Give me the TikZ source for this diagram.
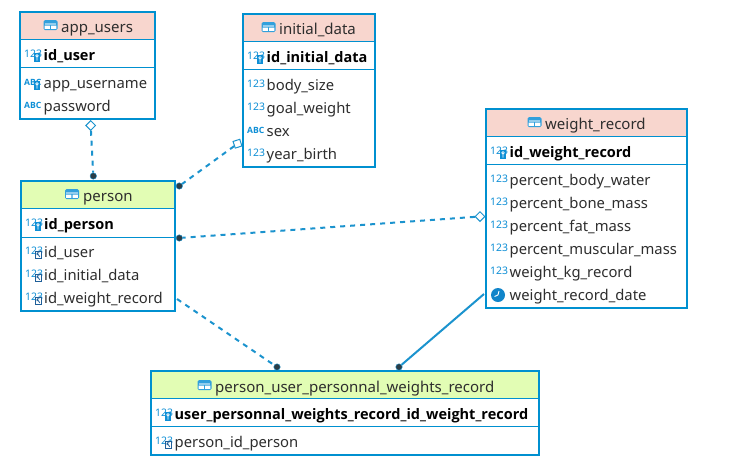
\documentclass[tikz,border=0pt]{standalone}
\usepackage{fontspec}
\setmainfont{Noto Sans}
\newfontfamily\pkfont{Open Sans}
\usetikzlibrary{shapes.geometric}
\definecolor{bord}{HTML}{0090D0}
\definecolor{lnk}{HTML}{1B93CE}
\definecolor{pinkh}{HTML}{F8D6CE}
\definecolor{greenh}{HTML}{E2FDB4}
\definecolor{txt}{HTML}{2E2E2E}
\definecolor{iconb}{HTML}{0E8FD6}
\definecolor{fkb}{HTML}{1F5F99}
\newcounter{nn}
\tikzset{
  x=1pt,y=-1pt,
  tbl/.style={draw=bord,line width=2pt,fill=white,rectangle,inner sep=0pt,anchor=north west,outer sep=0pt},
  sep/.style={draw=bord,line width=1pt},
  coltext/.style={font=\fontsize{14.8}{16}\selectfont,text=txt,anchor=base west,inner sep=0pt},
  pktext/.style={coltext,font=\pkfont\fontsize{14.5}{16}\selectfont\bfseries,text=black},
  titletext/.style={coltext,font=\fontsize{15}{16}\selectfont,anchor=base west},
  numicon/.style={font=\fontsize{10.4}{10}\selectfont,text=iconb,anchor=base west,inner sep=0pt},
  absicon/.style={font=\pkfont\fontsize{8.6}{10}\selectfont\bfseries,text=iconb,anchor=base west,inner sep=0pt},
  rel/.style={draw=lnk,line width=2pt,dash pattern=on 5pt off 5pt},
  relsolid/.style={draw=lnk,line width=2pt},
  dotend/.style={circle,fill=txt!85!lnk,draw=lnk,line width=.4pt,minimum size=6.5pt,inner sep=0pt},
  diamondend/.style={diamond,draw=lnk,fill=white,line width=1pt,minimum size=10pt,inner sep=0pt},
  squareend/.style={rectangle,rotate=18,draw=lnk,fill=white,line width=1pt,minimum size=7pt,inner sep=0pt},
}
% table: name, x1, y1, x2, y2, header bottom, pk bottom, colour
\newcommand{\tabl}[8]{%
  \node[tbl,minimum width=#4pt-#2pt,minimum height=#5pt-#3pt] (#1) at (#2,#3) {};
  \fill[#8] (#2+1,#3+1) rectangle (#4-1,#6);
  \draw[sep] (#2,#6) -- (#4,#6);
  \draw[sep] (#2,#7) -- (#4,#7);
  \draw[bord,line width=2pt] (#2,#3) rectangle (#4,#5);
}
% header: label, icon x, text x, baseline y
\newcommand{\titl}[4]{%
  \stepcounter{nn}%
  \fill[iconb!85!white,rounded corners=1.5pt] (#2,#4-11) rectangle +(14,10);
  \fill[white!55!iconb] (#2+1.2,#4-8) rectangle +(11.6,2);
  \fill[white] (#2+1.2,#4-5.4) rectangle +(5.2,3.2) (#2+7.6,#4-5.4) rectangle +(5.2,3.2);
  \node[titletext] (t\thenn) at (#3,#4+1) {#1};
}
\newcommand{\num}[2]{\stepcounter{nn}\node[numicon] (i\thenn) at (#1,#2-2.8) {123};}
\newcommand{\abc}[2]{\stepcounter{nn}\node[absicon] (i\thenn) at (#1,#2-3) {ABC};}
\newcommand{\keyb}[2]{%
  \fill[iconb] (#1+10,#2-7) rectangle +(6,9);
  \draw[white,line width=.7pt] (#1+13,#2-4.2) circle (1.3pt) (#1+13,#2-3) -- (#1+13,#2+.5);
}
\newcommand{\fkb}[2]{%
  \draw[fkb,fill=white,line width=.9pt] (#1+10.8,#2-5.5) rectangle +(5.2,6.5);
  \draw[fkb,line width=.8pt] (#1+12,#2-4) -- (#1+14.8,#2-.2) (#1+12,#2-4.2) -- (#1+12,#2-1.8) (#1+12,#2-4.2) -- (#1+14.4,#2-4.2);
}
% column: label, x icon, x text, y baseline
\newcommand{\pk}[4]{\num{#2}{#4}\keyb{#2}{#4}\node[pktext] (c\thenn) at (#3,#4) {#1};}
\newcommand{\cn}[4]{\num{#2}{#4}\node[coltext] (c\thenn) at (#3,#4) {#1};}
\newcommand{\ca}[4]{\abc{#2}{#4}\node[coltext] (c\thenn) at (#3,#4) {#1};}
\newcommand{\cf}[4]{\num{#2}{#4}\fkb{#2}{#4}\node[coltext] (c\thenn) at (#3,#4) {#1};}
\begin{document}
\begin{tikzpicture}
\useasboundingbox (0,0) rectangle (731,467);
\fill[white] (0,0) rectangle (731,467);

% app_users
\tabl{appusers}{20}{12}{155}{119}{39}{67}{pinkh}
\titl{app\_users}{43.5}{61}{31}
\pk{id\_user}{24}{43.5}{60}
\abc{24}{88}\keyb{24}{88}
\node[coltext] (c-appusername) at (43.5,88) {app\_username};
\ca{password}{24}{43.5}{111}

% initial_data
\tabl{initialdata}{243}{14}{375}{167}{41}{69}{pinkh}
\titl{initial\_data}{261.5}{279}{33}
\pk{id\_initial\_data}{247}{266.5}{62}
\cn{body\_size}{247}{266.5}{90}
\cn{goal\_weight}{247}{266.5}{113}
\ca{sex}{247}{266.5}{136}
\cn{year\_birth}{247}{266.5}{159}

% weight_record
\tabl{weightrecord}{486}{109}{687}{308}{136}{164}{pinkh}
\titl{weight\_record}{527.5}{545}{128}
\pk{id\_weight\_record}{490}{509.5}{157}
\cn{percent\_body\_water}{490}{509.5}{185}
\cn{percent\_bone\_mass}{490}{509.5}{208}
\cn{percent\_fat\_mass}{490}{509.5}{231}
\cn{percent\_muscular\_mass}{490}{509.5}{254}
\cn{weight\_kg\_record}{490}{509.5}{277}
\node[circle,fill=iconb!80!fkb,minimum size=14pt,inner sep=0pt] (clock) at (498,295) {};
\draw[white,line width=.9pt] (clock.center) -- ++(1,-4) (clock.center) -- ++(-3.5,1.5);
\node[coltext] (c-wrd) at (509.5,300) {weight\_record\_date};

% person
\tabl{person}{21}{181}{175}{311}{208}{237}{greenh}
\titl{person}{65}{83}{200}
\pk{id\_person}{25}{44}{229}
\cf{id\_user}{25}{44}{257}
\cf{id\_initial\_data}{25}{44}{280}
\cf{id\_weight\_record}{25}{44}{303}

% bridge
\tabl{bridge}{151}{371}{539}{455}{398}{426}{greenh}
\titl{person\_user\_personnal\_weights\_record}{197.5}{215}{391}
\pk{user\_personnal\_weights\_record\_id\_weight\_record}{155}{174.5}{419}
\cf{person\_id\_person}{155}{174.5}{447}

% relations
\coordinate (p4) at (177,299);
\coordinate (w5) at (484,294);
\node[diamondend] (d1) at (90.7,125.5) {};
\node[dotend] (e1) at (93.3,176) {};
\node[squareend] (d2) at (237.5,143.7) {};
\node[dotend] (e2) at (179.3,186) {};
\node[diamondend] (d3) at (480,216.5) {};
\node[dotend] (e3) at (179.3,238) {};
\node[dotend] (e4) at (277,367) {};
\node[dotend] (e5) at (399,367) {};
\draw[rel] (d1) -- (e1);
\draw[rel] (d2) -- (e2);
\draw[rel] (d3) -- (e3);
\draw[rel] (p4) -- (e4);
\draw[relsolid] (w5) -- (e5);
\end{tikzpicture}
\end{document}
